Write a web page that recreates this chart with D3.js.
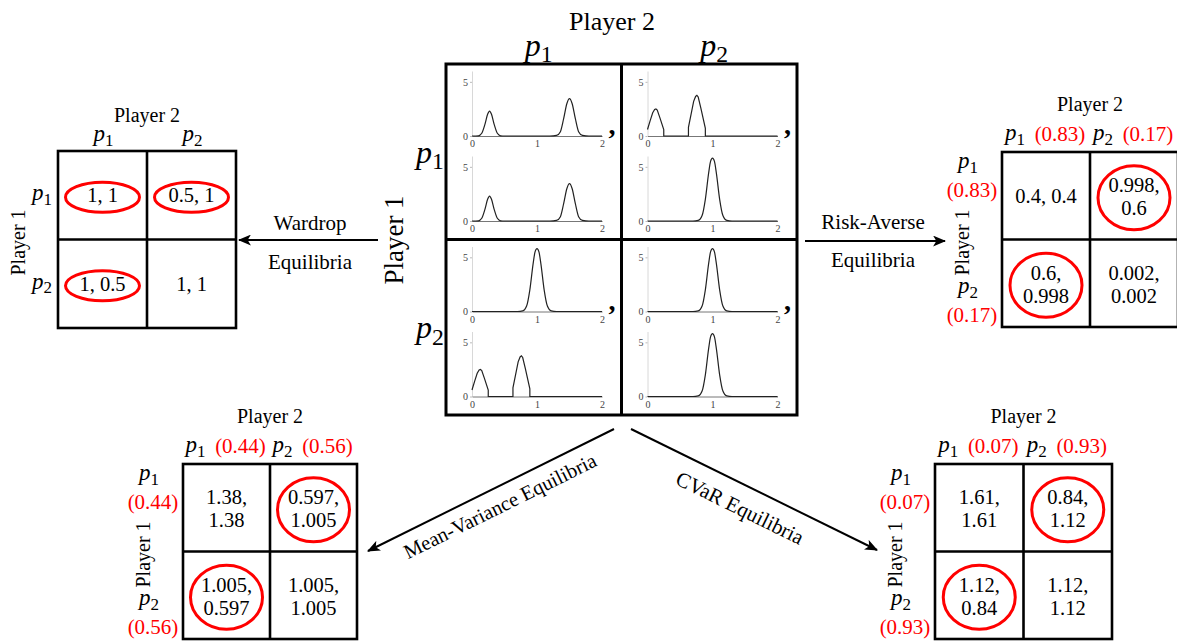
<!DOCTYPE html>
<html>
<head>
<meta charset="utf-8">
<script src="https://cdn.jsdelivr.net/npm/d3@7"></script>
<style>
  body { margin: 0; background: #fff; }
  svg text { font-family: "Liberation Serif", "Times New Roman", serif; fill: #000; }
</style>
</head>
<body>
<div id="chart"></div>
<script>
// ---- data ----
const strategies = ["1", "2"];              // subscripts of p
const densityXTicks = [0, 1, 2];
const densityYTicks = [0, 5];

// density curves, [cost, density]
const bimodal = [[0,0],[0.1,0.02],[0.15,0.25],[0.2,1.1],[0.24,2.0],[0.27,2.3],[0.3,2.0],[0.34,1.1],[0.39,0.25],[0.44,0.02],[0.5,0],
  [1.2,0],[1.3,0.05],[1.36,0.4],[1.41,1.6],[1.46,3.0],[1.5,3.45],[1.54,3.0],[1.59,1.6],[1.64,0.4],[1.7,0.05],[1.8,0],[2,0]];
const truncated = [[0,0.6],[0.04,1.4],[0.08,2.15],[0.11,2.45],[0.13,2.5],[0.15,2.4],[0.19,1.7],[0.25,0.6],[0.25,0],
  [0.63,0],[0.63,0.8],[0.67,2.0],[0.71,3.2],[0.74,3.65],[0.76,3.75],[0.78,3.6],[0.82,2.6],[0.89,0.7],[0.89,0],[2,0]];
const unimodal = [[0,0],[0.7,0],[0.78,0.05],[0.84,0.5],[0.89,2.0],[0.94,4.4],[0.97,5.5],[1,5.8],[1.03,5.5],[1.06,4.4],
  [1.11,2.0],[1.16,0.5],[1.22,0.05],[1.3,0],[2,0]];

// per cell of the game: [player 1 cost, player 2 cost]
const densityCells = [
  [[bimodal, bimodal], [truncated, unimodal]],
  [[unimodal, truncated], [unimodal, unimodal]]
];

const wardropPayoffs = [["1, 1", "0.5, 1"], ["1, 0.5", "1, 1"]];
const wardropCircled = [[true, true], [true, false]];

const riskAversePayoffs = [["0.4, 0.4", "0.998,\n0.6"], ["0.6,\n0.998", "0.002,\n0.002"]];
const riskAverseProbs = ["0.83", "0.17"];

const meanVarPayoffs = [["1.38,\n1.38", "0.597,\n1.005"], ["1.005,\n0.597", "1.005,\n1.005"]];
const meanVarProbs = ["0.44", "0.56"];

const cvarPayoffs = [["1.61,\n1.61", "0.84,\n1.12"], ["1.12,\n0.84", "1.12,\n1.12"]];
const cvarProbs = ["0.07", "0.93"];

const mixedCircled = [[false, true], [true, false]];

// ---- svg ----
const svgWidth = 1177, svgHeight = 641;
const svg = d3.select("#chart").append("svg")
  .attr("width", svgWidth)
  .attr("height", svgHeight);

svg.append("defs").append("marker")
  .attr("id", "arrow")
  .attr("viewBox", "0 0 12 10")
  .attr("refX", 11).attr("refY", 5)
  .attr("markerWidth", 13).attr("markerHeight", 11)
  .attr("markerUnits", "userSpaceOnUse")
  .attr("orient", "auto")
  .append("path")
  .attr("d", "M0,0 L12,5 L0,10 L3,5 Z")
  .attr("fill", "#000");

// italic p with an upright subscript
function mathP(g, x, y, sub, size) {
  const t = g.append("text")
    .attr("x", x).attr("y", y)
    .attr("text-anchor", "middle")
    .attr("font-size", size);
  t.append("tspan").attr("font-style", "italic").text("p");
  t.append("tspan").attr("font-size", size * 0.74).attr("dy", size * 0.2).text(sub);
  return t;
}

function redProb(g, x, y, p, size) {
  g.append("text")
    .attr("x", x).attr("y", y)
    .attr("text-anchor", "middle")
    .attr("dominant-baseline", "central")
    .attr("font-family", "'Noto Sans', 'Liberation Sans', sans-serif")
    .attr("font-size", size)
    .style("fill", "#ff0000")
    .text(`(${p})`);
}

// ---- small payoff matrices ----
function drawMatrix(o) {
  const g = svg.append("g");
  const xb = d3.scaleBand().domain([0, 1]).range([o.x, o.x + o.w]);
  const yb = d3.scaleBand().domain([0, 1]).range([o.y, o.y + o.h]);
  const bw = xb.bandwidth(), bh = yb.bandwidth();

  const cells = [];
  o.payoffs.forEach((row, r) => row.forEach((txt, c) => {
    cells.push({ r, c, lines: txt.split("\n"), circ: o.circled[r][c] });
  }));

  // ellipses around equilibria
  g.selectAll("ellipse").data(cells.filter(d => d.circ)).join("ellipse")
    .attr("cx", d => xb(d.c) + bw / 2)
    .attr("cy", d => yb(d.r) + bh / 2 + 2)
    .attr("rx", d => d.lines.length === 1 ? 37 : 36)
    .attr("ry", d => d.lines.length === 1 ? 15 : 32)
    .attr("fill", "none")
    .attr("stroke", "#ff0000")
    .attr("stroke-width", 3);

  // payoff text
  cells.forEach(d => {
    const n = d.lines.length;
    d.lines.forEach((line, i) => {
      g.append("text")
        .attr("x", xb(d.c) + bw / 2)
        .attr("y", yb(d.r) + bh / 2 + (i - (n - 1) / 2) * 23 + (n > 1 ? 1 : 0))
        .attr("text-anchor", "middle")
        .attr("dominant-baseline", "central")
        .attr("font-size", 20.5)
        .text(line);
    });
  });

  // grid
  g.append("rect")
    .attr("x", o.x).attr("y", o.y).attr("width", o.w).attr("height", o.h)
    .attr("fill", "none").attr("stroke", "#000").attr("stroke-width", 2.6);
  g.append("line")
    .attr("x1", xb(1)).attr("x2", xb(1)).attr("y1", o.y).attr("y2", o.y + o.h)
    .attr("stroke", "#000").attr("stroke-width", 2.6);
  g.append("line")
    .attr("x1", o.x).attr("x2", o.x + o.w).attr("y1", yb(1)).attr("y2", yb(1))
    .attr("stroke", "#000").attr("stroke-width", 2.6);

  const hasP = !!o.probs;
  // Player 2 header
  g.append("text")
    .attr("x", o.x + o.w / 2).attr("y", o.y - (hasP ? 48 : 36))
    .attr("text-anchor", "middle").attr("dominant-baseline", "central")
    .attr("font-size", 20).text("Player 2");
  // Player 1 side label
  g.append("text")
    .attr("transform", `translate(${o.x - 40},${o.y + o.h / 2 + 3}) rotate(-90)`)
    .attr("text-anchor", "middle").attr("dominant-baseline", "central")
    .attr("font-size", 20).text("Player 1");

  strategies.forEach((s, i) => {
    const cx = xb(i) + bw / 2;
    if (hasP) {
      mathP(g, cx - 31, o.y - 12, s, 23);
      redProb(g, cx + 14, o.y - 18, o.probs[i], 21);
      const top = yb(i), bot = yb(i) + bh;
      if (i === 0) {
        mathP(g, o.x - 34, top + 16, s, 23);
        redProb(g, o.x - 30, top + 38, o.probs[i], 21);
      } else {
        mathP(g, o.x - 34, bot - 34, s, 23);
        redProb(g, o.x - 30, bot - 12, o.probs[i], 21);
      }
    } else {
      mathP(g, cx + 1, o.y - 10, s, 23);
      mathP(g, o.x - 16, yb(i) + bh / 2 + 5, s, 23);
    }
  });
}

drawMatrix({ x: 58, y: 151, w: 178, h: 177, payoffs: wardropPayoffs, circled: wardropCircled });
drawMatrix({ x: 1002, y: 152, w: 176, h: 175, payoffs: riskAversePayoffs, circled: mixedCircled, probs: riskAverseProbs });
drawMatrix({ x: 183, y: 464, w: 174, h: 175, payoffs: meanVarPayoffs, circled: mixedCircled, probs: meanVarProbs });
drawMatrix({ x: 935, y: 464, w: 177, h: 175, payoffs: cvarPayoffs, circled: mixedCircled, probs: cvarProbs });

// ---- central game with cost distributions ----
const main = svg.append("g");
const mx = d3.scaleBand().domain([0, 1]).range([446, 797]);
const my = d3.scaleBand().domain([0, 1]).range([64, 415]);
const plotBase = [72, 157];

densityCells.forEach((row, r) => row.forEach((pair, c) => {
  const cx = mx(c), cy = my(r);
  pair.forEach((curve, k) => {
    const px = d3.scaleLinear().domain([0, 2]).range([cx + 26, cx + 156]);
    const py = d3.scaleLinear().domain([0, 6]).range([cy + plotBase[k], cy + plotBase[k] - 65]);

    const ya = main.append("g")
      .attr("transform", `translate(${px(0)},0)`)
      .call(d3.axisLeft(py).tickValues(densityYTicks).tickFormat(d3.format("d"))
        .tickSize(2).tickSizeOuter(0).tickPadding(2));
    ya.select(".domain").attr("stroke", "#d8d8d8");
    ya.selectAll(".tick line").attr("stroke", "#bbb");

    const xa = main.append("g")
      .attr("transform", `translate(0,${py(0)})`)
      .call(d3.axisBottom(px).tickValues(densityXTicks).tickFormat(d3.format("d"))
        .tickSize(0).tickSizeOuter(0).tickPadding(4));
    xa.select(".domain").attr("stroke", "#777");

    [ya, xa].forEach(a => a.selectAll("text")
      .attr("font-family", "'Liberation Sans', Arial, sans-serif")
      .attr("font-size", 10)
      .style("fill", "#444"));

    const isTrunc = curve === truncated;
    main.append("path")
      .datum(curve)
      .attr("fill", "none")
      .attr("stroke", "#222")
      .attr("stroke-width", 1.2)
      .attr("d", d3.line()
        .x(d => px(d[0]))
        .y(d => py(d[1]))
        .curve(isTrunc ? d3.curveLinear : d3.curveMonotoneX));

    if (k === 0) {
      main.append("text")
        .attr("x", cx + 166).attr("y", cy + 70)
        .attr("text-anchor", "middle")
        .attr("font-size", 28)
        .attr("font-weight", "bold")
        .text(",");
    }
  });
}));

main.append("rect")
  .attr("x", 446).attr("y", 64).attr("width", 351).attr("height", 351)
  .attr("fill", "none").attr("stroke", "#000").attr("stroke-width", 3);
main.append("line").attr("x1", mx(1)).attr("x2", mx(1)).attr("y1", 64).attr("y2", 415)
  .attr("stroke", "#000").attr("stroke-width", 3);
main.append("line").attr("x1", 446).attr("x2", 797).attr("y1", my(1)).attr("y2", my(1))
  .attr("stroke", "#000").attr("stroke-width", 3);

main.append("text")
  .attr("x", 612).attr("y", 21)
  .attr("text-anchor", "middle").attr("dominant-baseline", "central")
  .attr("font-size", 26).text("Player 2");
main.append("text")
  .attr("transform", "translate(394,240) rotate(-90)")
  .attr("text-anchor", "middle").attr("dominant-baseline", "central")
  .attr("font-size", 27).text("Player 1");

strategies.forEach((s, i) => {
  mathP(main, mx(i) + mx.bandwidth() / 2 + 5, 56, s, 32);
  mathP(main, 430, my(i) + my.bandwidth() / 2 + 11, s, 32);
});

// ---- arrows and their labels ----
const arrows = svg.append("g");
function arrow(x1, y1, x2, y2) {
  arrows.append("line")
    .attr("x1", x1).attr("y1", y1).attr("x2", x2).attr("y2", y2)
    .attr("stroke", "#000").attr("stroke-width", 2)
    .attr("marker-end", "url(#arrow)");
}
function label(x, y, txt, size, angle) {
  arrows.append("text")
    .attr("transform", `translate(${x},${y}) rotate(${angle || 0})`)
    .attr("text-anchor", "middle").attr("dominant-baseline", "central")
    .attr("font-size", size).text(txt);
}

arrow(378, 240, 239, 240);
label(310, 223, "Wardrop", 21);
label(310, 262, "Equilibria", 21);

arrow(805, 241, 945, 241);
label(873, 222, "Risk-Averse", 21);
label(873, 260, "Equilibria", 21);

arrow(614, 429, 368, 551);
label(500, 506, "Mean-Variance Equilibria", 20.5, -26.3);

arrow(631, 429, 877, 550);
label(740, 508, "CVaR Equilibria", 21, 26.2);
</script>
</body>
</html>
